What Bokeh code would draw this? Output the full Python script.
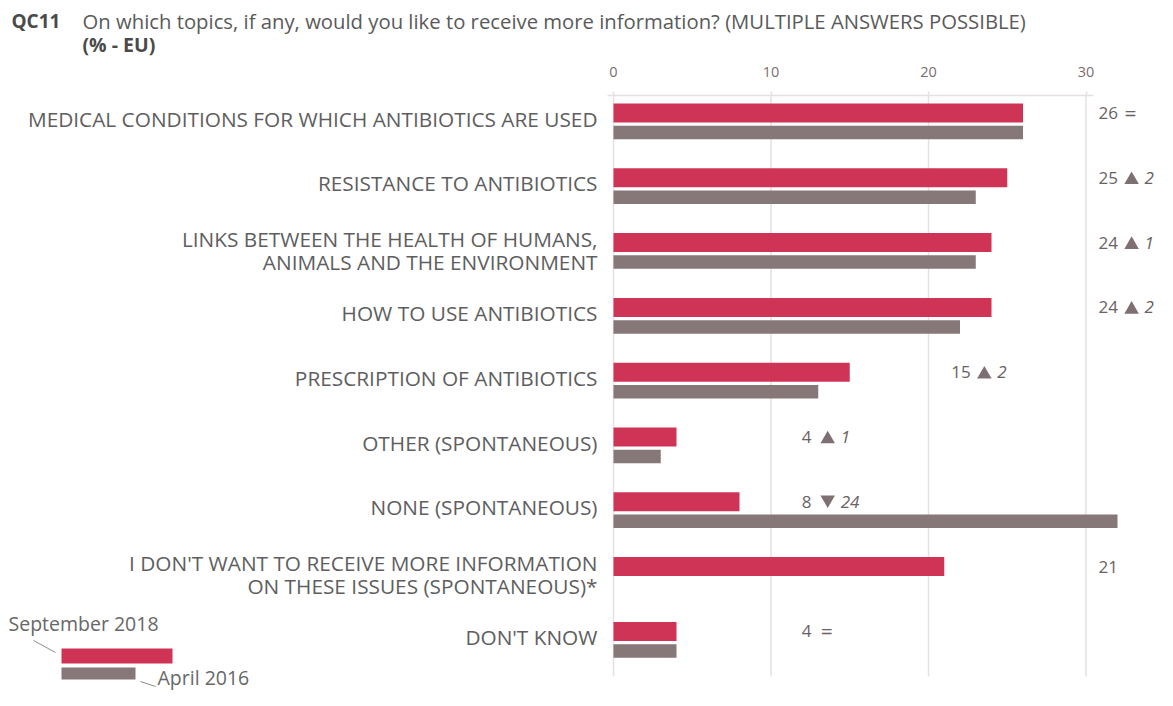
from bokeh.plotting import figure
from bokeh.layouts import column
from bokeh.models import Range1d, FixedTicker, ColumnDataSource
from bokeh.embed import file_html
from bokeh.resources import INLINE
from bokeh.core.properties import value

# ---------------- data ----------------
categories = [
    "MEDICAL CONDITIONS FOR WHICH ANTIBIOTICS ARE USED",
    "RESISTANCE TO ANTIBIOTICS",
    "LINKS BETWEEN THE HEALTH OF HUMANS,\nANIMALS AND THE ENVIRONMENT",
    "HOW TO USE ANTIBIOTICS",
    "PRESCRIPTION OF ANTIBIOTICS",
    "OTHER (SPONTANEOUS)",
    "NONE (SPONTANEOUS)",
    "I DON'T WANT TO RECEIVE MORE INFORMATION\nON THESE ISSUES (SPONTANEOUS)*",
    "DON'T KNOW",
]
sep_2018 = [26, 25, 24, 24, 15, 4, 8, 21, 4]
apr_2016 = [26, 23, 23, 22, 13, 3, 32, None, 4]
trend = ["=", "up", "up", "up", "up", "up", "down", "", "="]
trend_diff = ["", "2", "1", "2", "2", "1", "24", "", ""]
x_ticks = [0, 10, 20, 30]
series_names = ["September 2018", "April 2016"]
title_code = "QC11"
title_text = "On which topics, if any, would you like to receive more information? (MULTIPLE ANSWERS POSSIBLE)"
subtitle_text = "(% - EU)"

# ---------------- layout (image pixel geometry) ----------------
W, H = 1157, 690
T = 58                  # height of the title strip
TOP_IMG = 95            # frame top (axis line) in image px
X0_IMG = 613.0          # image x of value 0
PX_X = 15.75            # px per % unit
ROW0_IMG = 119.0        # image y of first row centre
PX_Y = 64.8             # px per row


def dx(px):
    return (px - X0_IMG) / PX_X


def dy(py):
    return (py - ROW0_IMG) / PX_Y


x_start, x_end = dx(0), dx(W)
y_top, y_bot = dy(TOP_IMG), dy(H)

RED = "#CF3457"
GREY = "#867779"
TXT = "#5E5E5E"
NUM = "#6A6264"
SYM = "#7E6F72"
GRID = "#E6E0DE"
FONT = "Open Sans"

# ---------------- title strip ----------------
t = figure(width=W, height=T, output_backend="svg", toolbar_location=None,
           x_range=Range1d(0, W), y_range=Range1d(T, 0),
           x_axis_location=None, y_axis_location=None,
           min_border=0)
t.outline_line_color = None
t.xgrid.visible = False
t.ygrid.visible = False
t.text(x=[11], y=[20], text=[title_code], text_font=value(FONT), text_font_size="19px",
       text_font_style="bold", text_color="#4A4A4A", text_baseline="middle")
t.text(x=[82], y=[20], text=[title_text], text_font=value(FONT), text_font_size="20.3px",
       text_color="#5A5A5A", text_baseline="middle")
t.text(x=[82], y=[44], text=[subtitle_text], text_font=value(FONT), text_font_size="19.5px",
       text_font_style="bold", text_color="#4A4A4A", text_baseline="middle")

# ---------------- main chart ----------------
p = figure(width=W, height=H - T, output_backend="svg", toolbar_location=None,
           x_range=Range1d(x_start, x_end), y_range=Range1d(y_bot, y_top),
           x_axis_location="above", y_axis_location=None,
           min_border_left=0, min_border_right=0, min_border_bottom=0,
           min_border_top=TOP_IMG - T)
p.outline_line_color = None
p.xgrid.visible = False
p.ygrid.visible = False

ax = p.xaxis[0]
ax.ticker = FixedTicker(ticks=x_ticks)
ax.bounds = (dx(607), dx(1093))
ax.axis_line_color = GRID
ax.axis_line_width = 1.5
ax.major_tick_line_color = GRID
ax.major_tick_line_width = 1.5
ax.major_tick_out = 4
ax.major_tick_in = 0
ax.minor_tick_line_color = None
ax.major_label_standoff = 15
ax.major_label_text_font = FONT
ax.major_label_text_font_size = "14.5px"
ax.major_label_text_color = "#7A6E70"

# grid lines
p.segment(x0=x_ticks, x1=x_ticks, y0=[y_top] * len(x_ticks), y1=[dy(676)] * len(x_ticks),
          line_color=GRID, line_width=1.5)

rows = list(range(len(categories)))
RED_OFF, RED_H = dy(112.5) - dy(119), 19 / PX_Y
GRY_OFF, GRY_H = dy(132) - dy(119), 13.5 / PX_Y

red_src = ColumnDataSource(dict(y=[r + RED_OFF for r in rows], v=sep_2018))
p.hbar(y="y", left=0, right="v", height=RED_H, source=red_src,
       fill_color=RED, line_color=None)
g_rows = [r for r in rows if apr_2016[r] is not None]
grey_src = ColumnDataSource(dict(y=[r + GRY_OFF for r in g_rows], v=[apr_2016[r] for r in g_rows]))
p.hbar(y="y", left=0, right="v", height=GRY_H, source=grey_src,
       fill_color=GREY, line_color=None)

# category labels (one text per line)
LINE_PX = 23
lab_y, lab_t = [], []
for r, c in enumerate(categories):
    parts = c.split("\n")
    n = len(parts)
    shift = 1.5 if n > 1 else -1.0
    for k, s in enumerate(parts):
        lab_y.append(r + (shift + (k - (n - 1) / 2) * LINE_PX) / PX_Y)
        lab_t.append(s)
p.text(x=[dx(597)] * len(lab_t), y=lab_y, text=lab_t,
       text_align="right", text_baseline="middle", text_font=value(FONT),
       text_font_size="20.8px", text_color=TXT)

# value labels
label_col = [30.8, 30.8, 30.8, 30.8, 21.45, 11.95, 11.95, 30.8, 11.95]
ly = [r + RED_OFF for r in rows]
nums = [str(v) for v in sep_2018]
sym_start = [11 + 7 * len(s) for s in nums]
p.text(x=label_col, y=ly, text=nums, text_align="left", text_baseline="middle",
       text_font=value(FONT), text_font_size="17px", text_color=NUM)

eq_rows = [r for r in rows if trend[r] == "="]
p.text(x=[label_col[r] for r in eq_rows], y=[ly[r] for r in eq_rows], text=["="] * len(eq_rows),
       x_offset=[sym_start[r] + 1 for r in eq_rows],
       text_align="left", text_baseline="middle",
       text_font=value(FONT), text_font_size="21px", text_color=NUM)

TRI = 14.5
tri_h = TRI * 0.866
up_rows = [r for r in rows if trend[r] == "up"]
p.scatter(x=[label_col[r] + (sym_start[r] + 8) / PX_X for r in up_rows],
          y=[ly[r] + (tri_h / 6) / PX_Y for r in up_rows],
          marker="triangle", size=TRI, fill_color=SYM, line_color=None)
dn_rows = [r for r in rows if trend[r] == "down"]
p.scatter(x=[label_col[r] + (sym_start[r] + 8) / PX_X for r in dn_rows],
          y=[ly[r] - (tri_h / 6) / PX_Y for r in dn_rows],
          marker="inverted_triangle", size=TRI, fill_color=SYM, line_color=None)
d_rows = [r for r in rows if trend_diff[r] != ""]
p.text(x=[label_col[r] for r in d_rows], y=[ly[r] for r in d_rows],
       text=[trend_diff[r] for r in d_rows],
       x_offset=[sym_start[r] + 21 for r in d_rows],
       text_align="left", text_baseline="middle", text_font=value(FONT),
       text_font_size="17px", text_font_style="italic", text_color=NUM)

# legend (custom)
p.quad(left=[dx(61)], right=[dx(172)], top=[dy(648)], bottom=[dy(663)],
       fill_color=RED, line_color=None)
p.quad(left=[dx(61)], right=[dx(135)], top=[dy(667)], bottom=[dy(679)],
       fill_color=GREY, line_color=None)
p.segment(x0=[dx(33), dx(140)], y0=[dy(640), dy(681)], x1=[dx(55), dx(155)], y1=[dy(652), dy(686)],
          line_color="#8C8C8C", line_width=1)
p.text(x=[dx(8), dx(157)], y=[dy(623), dy(677)], text=series_names,
       text_align="left", text_baseline="middle", text_font=value(FONT),
       text_font_size="19.5px", text_color="#676767")

layout = column(t, p, spacing=0)
open("out.html", "w").write(file_html(layout, INLINE))
